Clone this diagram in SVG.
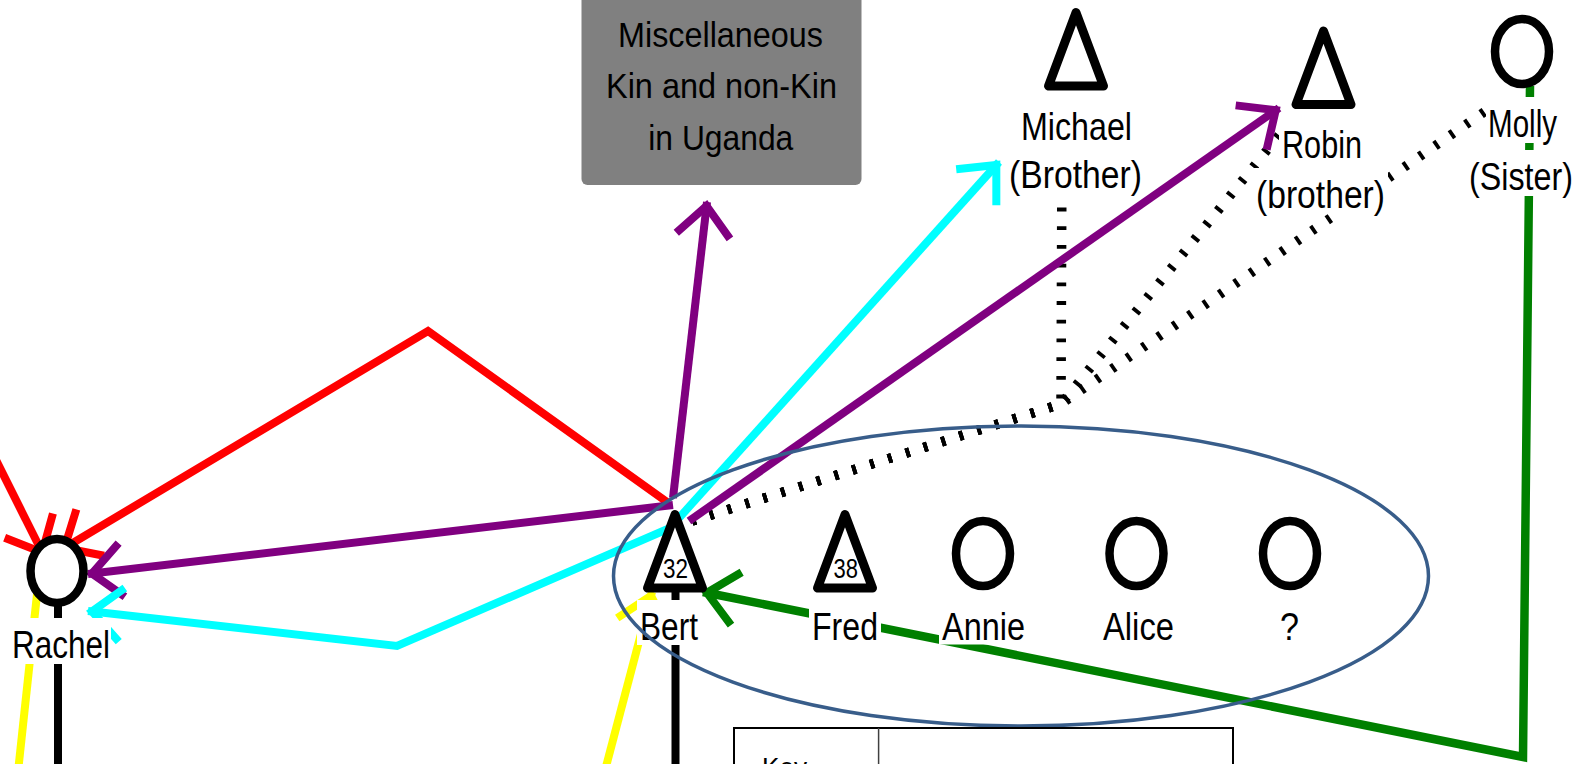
<svg xmlns="http://www.w3.org/2000/svg" width="1581" height="764" viewBox="0 0 1581 764">
<style>
.ln{fill:none;stroke-width:8;stroke-linejoin:miter;stroke-linecap:butt}
.red{stroke:#FF0000}.pur{stroke:#800080}.cya{stroke:#00FFFF}.grn{stroke:#008000}.yel{stroke:#FFFF00}
.blk{fill:none;stroke:#000;stroke-width:8}
.dot{fill:none;stroke:#000;stroke-width:9.5;stroke-dasharray:3.8 14.9}
.tri{fill:#fff;stroke:#000;stroke-width:9;stroke-linejoin:round}
.cir{fill:#fff;stroke:#000;stroke-width:8.5}
.bg{fill:#fff}
.lbl{font-family:"Liberation Sans Narrow","Liberation Sans",Arial,sans-serif;font-size:39px;fill:#000}
.num{font-family:"Liberation Sans Narrow","Liberation Sans",Arial,sans-serif;font-size:27px;fill:#000}
.misc{font-family:"Liberation Sans Narrow","Liberation Sans",Arial,sans-serif;font-size:35px;fill:#000}
marker{overflow:visible}
.head{fill:none;stroke-width:8;stroke-linejoin:miter;stroke-linecap:butt}
</style>
<defs>
<marker id="aRed" markerUnits="userSpaceOnUse" orient="auto" refX="0" refY="0" markerWidth="1" markerHeight="1"><path class="head" stroke="#FF0000" d="M-34,-27 L-4,0 L-34,27"/></marker>
<marker id="aPur" markerUnits="userSpaceOnUse" orient="auto" refX="0" refY="0" markerWidth="1" markerHeight="1"><path class="head" stroke="#800080" d="M-34,-27 L-4,0 L-34,27"/></marker>
<marker id="aCya" markerUnits="userSpaceOnUse" orient="auto" refX="0" refY="0" markerWidth="1" markerHeight="1"><path class="head" stroke="#00FFFF" d="M-34,-27 L-4,0 L-34,27"/></marker>
<marker id="aGrn" markerUnits="userSpaceOnUse" orient="auto" refX="0" refY="0" markerWidth="1" markerHeight="1"><path class="head" stroke="#008000" d="M-34,-27 L-4,0 L-34,27"/></marker>
<marker id="aYel" markerUnits="userSpaceOnUse" orient="auto" refX="0" refY="0" markerWidth="1" markerHeight="1"><path class="head" stroke="#FFFF00" d="M-34,-27 L-4,0 L-34,27"/></marker>
</defs>
<rect width="1581" height="764" fill="#fff"/>

<g id="connectors">
  <path class="blk" d="M58,600 L58,772"/>
  <path class="blk" d="M675.5,585 L675.5,772"/>
  <path class="dot" d="M692,521 L1061,404 L1062,143"/>
  <path class="dot" d="M692,521 L1061,404 L1285,128"/>
  <path class="dot" d="M692,521 L1061,404 L1487,110"/>
  <path class="ln yel" d="M18,772 L38,585"/>
  <path class="ln yel" d="M604.6,772 L652,592" marker-end="url(#aYel)"/>
  <path class="ln red" d="M-10,448 L44,556" marker-end="url(#aRed)"/>
  <path class="ln red" d="M667,502 L428,331 L61,550" marker-end="url(#aRed)"/>
  <path class="ln pur" d="M673,498 L707,202" marker-end="url(#aPur)"/>
  <path class="ln pur" d="M673,505 L88,574" marker-end="url(#aPur)"/>
  <path class="ln pur" d="M689,521 L1279,108" marker-end="url(#aPur)"/>
  <path class="ln cya" d="M670,528 L999,162" marker-end="url(#aCya)"/>
  <path class="ln cya" d="M670,528 L397,646 L88,611" marker-end="url(#aCya)"/>
  <path class="ln grn" style="stroke-width:8.5" d="M1530,86 L1523,757 L703,592" marker-end="url(#aGrn)"/>
</g>

<g id="node-misc">
  <rect x="581.5" y="-10" width="280" height="195" rx="6" fill="#808080"/>
  <text class="misc" x="618" y="46.7" textLength="205" lengthAdjust="spacingAndGlyphs">Miscellaneous</text>
  <text class="misc" x="606" y="98.3" textLength="231" lengthAdjust="spacingAndGlyphs">Kin and non-Kin</text>
  <text class="misc" x="648.3" y="150" textLength="145" lengthAdjust="spacingAndGlyphs">in Uganda</text>
</g>

<g id="node-rachel">
  <ellipse class="cir" cx="57" cy="571" rx="26.5" ry="32"/>
  <rect class="bg" x="9" y="618" width="102" height="46"/>
  <text class="lbl" x="12" y="658" textLength="98" lengthAdjust="spacingAndGlyphs">Rachel</text>
</g>

<g id="node-bert">
  <path class="tri" d="M675,514.5 L647.5,588 L702.5,588 Z"/>
  <text class="num" x="663" y="578.3" textLength="25" lengthAdjust="spacingAndGlyphs">32</text>
  <rect class="bg" x="637" y="600" width="64" height="45"/>
  <text class="lbl" x="640" y="640" textLength="58" lengthAdjust="spacingAndGlyphs">Bert</text>
</g>

<g id="node-fred">
  <path class="tri" d="M845,514.5 L817.5,588 L872.5,588 Z"/>
  <text class="num" x="833.5" y="577.5" textLength="24.5" lengthAdjust="spacingAndGlyphs">38</text>
  <rect class="bg" x="809" y="600" width="72" height="45"/>
  <text class="lbl" x="812" y="640" textLength="66" lengthAdjust="spacingAndGlyphs">Fred</text>
</g>

<g id="node-annie">
  <ellipse class="cir" cx="983" cy="553.5" rx="27" ry="32.5"/>
  <rect class="bg" x="939" y="600" width="89" height="44.5"/>
  <text class="lbl" x="942" y="640" textLength="83" lengthAdjust="spacingAndGlyphs">Annie</text>
</g>

<g id="node-alice">
  <ellipse class="cir" cx="1136.5" cy="553.5" rx="27" ry="32.5"/>
  <rect class="bg" x="1100" y="600" width="77" height="45"/>
  <text class="lbl" x="1103" y="640" textLength="71" lengthAdjust="spacingAndGlyphs">Alice</text>
</g>

<g id="node-unknown">
  <ellipse class="cir" cx="1290" cy="553.5" rx="27" ry="32.5"/>
  <rect class="bg" x="1277" y="600" width="25" height="45"/>
  <text class="lbl" x="1280" y="640" textLength="19" lengthAdjust="spacingAndGlyphs">?</text>
</g>

<g id="node-michael">
  <path class="tri" d="M1076,12.5 L1048.5,86 L1103.5,86 Z"/>
  <rect class="bg" x="1018" y="100" width="117" height="46"/>
  <text class="lbl" x="1021" y="140" textLength="111" lengthAdjust="spacingAndGlyphs">Michael</text>
  <rect class="bg" x="1006" y="148" width="139" height="46"/>
  <text class="lbl" x="1009" y="188" textLength="133" lengthAdjust="spacingAndGlyphs">(Brother)</text>
</g>

<g id="node-robin">
  <path class="tri" d="M1323.5,31 L1296,104.5 L1351,104.5 Z"/>
  <rect class="bg" x="1279" y="118" width="86" height="46"/>
  <text class="lbl" x="1282" y="158" textLength="80" lengthAdjust="spacingAndGlyphs">Robin</text>
  <rect class="bg" x="1253" y="168" width="135" height="46"/>
  <text class="lbl" x="1256" y="208" textLength="129" lengthAdjust="spacingAndGlyphs">(brother)</text>
</g>

<g id="node-molly">
  <ellipse class="cir" cx="1522" cy="51.5" rx="27" ry="32.5"/>
  <rect class="bg" x="1486" y="97" width="74" height="46"/>
  <text class="lbl" x="1488" y="137" textLength="69" lengthAdjust="spacingAndGlyphs">Molly</text>
  <rect class="bg" x="1466" y="150" width="110" height="46"/>
  <text class="lbl" x="1469" y="190" textLength="104" lengthAdjust="spacingAndGlyphs">(Sister)</text>
</g>

<g id="node-household">
  <ellipse cx="1021" cy="576" rx="407.5" ry="150" fill="none" stroke="#385D8A" stroke-width="3.5"/>
</g>

<g id="key">
  <rect x="734" y="728" width="499" height="70" fill="#fff" stroke="#000" stroke-width="2"/>
  <line x1="878.6" y1="728" x2="878.6" y2="798" stroke="#404040" stroke-width="1.5"/>
  <text class="lbl" x="762" y="777" style="font-size:28px" textLength="45" lengthAdjust="spacingAndGlyphs">Key</text>
</g>
</svg>
